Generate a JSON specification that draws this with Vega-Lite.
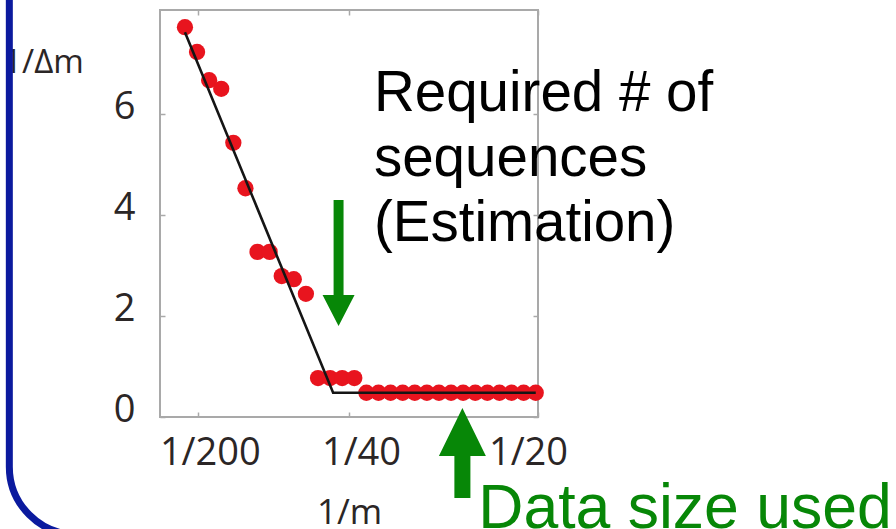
{
  "$schema": "https://vega.github.io/schema/vega-lite/v6.json",
  "autosize": {"type": "none"},
  "padding": {"left": 160, "top": 10, "right": 358, "bottom": 112},
  "width": 378,
  "height": 407,
  "background": "white",
  "config": {
    "view": {"stroke": "#a9a9a9", "strokeWidth": 2},
    "axis": {
      "domain": false,
      "grid": false,
      "labelFlush": false,
      "tickColor": "#a9a9a9",
      "tickWidth": 1.5,
      "tickSize": -5,
      "labelFont": "Open Sans",
      "labelColor": "#2b2626",
      "labelFontSize": 38,
      "titleFont": "Open Sans",
      "titleColor": "#2b2626",
      "titleFontWeight": "normal"
    }
  },
  "datasets": {
    "measured": [
      {"inv_m": 0.0033, "inv_dm": 7.72},
      {"inv_m": 0.0049, "inv_dm": 7.23},
      {"inv_m": 0.0065, "inv_dm": 6.67},
      {"inv_m": 0.0081, "inv_dm": 6.50},
      {"inv_m": 0.0097, "inv_dm": 5.43},
      {"inv_m": 0.0113, "inv_dm": 4.53},
      {"inv_m": 0.0129, "inv_dm": 3.27},
      {"inv_m": 0.0145, "inv_dm": 3.27},
      {"inv_m": 0.0161, "inv_dm": 2.79},
      {"inv_m": 0.0177, "inv_dm": 2.73},
      {"inv_m": 0.0193, "inv_dm": 2.44},
      {"inv_m": 0.0209, "inv_dm": 0.77},
      {"inv_m": 0.0225, "inv_dm": 0.77},
      {"inv_m": 0.0241, "inv_dm": 0.77},
      {"inv_m": 0.0257, "inv_dm": 0.77},
      {"inv_m": 0.0273, "inv_dm": 0.48},
      {"inv_m": 0.0289, "inv_dm": 0.48},
      {"inv_m": 0.0305, "inv_dm": 0.48},
      {"inv_m": 0.0321, "inv_dm": 0.48},
      {"inv_m": 0.0337, "inv_dm": 0.48},
      {"inv_m": 0.0353, "inv_dm": 0.48},
      {"inv_m": 0.0369, "inv_dm": 0.48},
      {"inv_m": 0.0385, "inv_dm": 0.48},
      {"inv_m": 0.0401, "inv_dm": 0.48},
      {"inv_m": 0.0417, "inv_dm": 0.48},
      {"inv_m": 0.0433, "inv_dm": 0.48},
      {"inv_m": 0.0449, "inv_dm": 0.48},
      {"inv_m": 0.0465, "inv_dm": 0.48},
      {"inv_m": 0.0481, "inv_dm": 0.48},
      {"inv_m": 0.0497, "inv_dm": 0.48}
    ],
    "fit": [
      {"inv_m": 0.0033, "inv_dm": 7.62},
      {"inv_m": 0.0229, "inv_dm": 0.48},
      {"inv_m": 0.0497, "inv_dm": 0.48}
    ]
  },
  "layer": [
    {
      "data": {"name": "measured"},
      "mark": {"type": "circle", "color": "#e8141e", "size": 265, "opacity": 1},
      "encoding": {
        "x": {
          "field": "inv_m", "type": "quantitative",
          "scale": {"domain": [0, 0.05], "nice": false, "zero": false},
          "axis": {
            "orient": "bottom",
            "values": [0.005, 0.025, 0.05],
            "labelExpr": "datum.value < 0.01 ? '1/200' : datum.value < 0.04 ? '1/40' : '1/20'",
            "labelPadding": 22,
            "labelOffset": {"condition": {"test": "datum.value > 0.04", "value": -10}, "value": 12},
            "title": "1/m",
            "titleFontSize": 35,
            "titleX": 189,
            "titleY": 78,
            "titleAlign": "center",
            "titleBaseline": "top"
          }
        },
        "y": {
          "field": "inv_dm", "type": "quantitative",
          "scale": {"domain": [0, 8.06], "nice": false},
          "axis": {
            "orient": "left",
            "values": [0, 2, 4, 6],
            "labelPadding": 30,
            "labelOffset": -7,
            "title": "1/Δm",
            "titleFontSize": 33,
            "titleAngle": 0,
            "titleX": -117,
            "titleY": 52,
            "titleAlign": "center",
            "titleBaseline": "middle"
          }
        }
      }
    },
    {
      "data": {"name": "fit"},
      "mark": {"type": "line", "color": "#151515", "strokeWidth": 2.6},
      "encoding": {
        "x": {
          "field": "inv_m", "type": "quantitative",
          "axis": {"orient": "top", "values": [0.005, 0.025, 0.05], "labels": false, "title": null}
        },
        "y": {
          "field": "inv_dm", "type": "quantitative",
          "axis": {"orient": "right", "values": [0, 2, 4, 6], "labels": false, "title": null}
        }
      }
    },
    {
      "data": {"values": [{"note": ["Required # of", "sequences", "(Estimation)"]}]},
      "mark": {"type": "text", "font": "Liberation Sans", "fontSize": 56.5, "color": "black", "align": "left", "baseline": "alphabetic", "lineHeight": 65},
      "encoding": {
        "x": {"datum": 0.0283, "type": "quantitative", "axis": null},
        "y": {"datum": 6.06, "type": "quantitative", "axis": null},
        "text": {"field": "note"}
      }
    },
    {
      "data": {"values": [{"note": "Data size used"}]},
      "mark": {"type": "text", "font": "Liberation Sans", "fontSize": 62.5, "color": "#078707", "align": "left", "baseline": "alphabetic"},
      "encoding": {
        "x": {"datum": 0.0421, "type": "quantitative", "axis": null},
        "y": {"datum": -2.2, "type": "quantitative", "axis": null},
        "text": {"field": "note"}
      }
    },
    {
      "data": {"values": [{"arrow": "estimate", "inv_m": 0.02362, "inv_dm": 3.05}]},
      "mark": {"type": "point", "filled": true, "color": "#078707", "opacity": 1, "size": 15876,
        "shape": "M-0.079,-1L0.079,-1L0.079,0.508L0.254,0.508L0,1L-0.254,0.508L-0.079,0.508Z"},
      "encoding": {
        "x": {"field": "inv_m", "type": "quantitative", "axis": null},
        "y": {"field": "inv_dm", "type": "quantitative", "axis": null}
      }
    },
    {
      "data": {"values": [{"arrow": "used", "inv_m": 0.04, "inv_dm": -0.713}]},
      "mark": {"type": "point", "filled": true, "color": "#078707", "opacity": 1, "size": 8100,
        "shape": "M0,-1L0.522,0.067L0.178,0.067L0.178,1L-0.178,1L-0.178,0.067L-0.522,0.067Z"},
      "encoding": {
        "x": {"field": "inv_m", "type": "quantitative", "axis": null},
        "y": {"field": "inv_dm", "type": "quantitative", "axis": null}
      }
    },
    {
      "data": {"values": [{"left": -0.01993, "right": 0.2, "bottom": -2.33, "top": 30}]},
      "mark": {"type": "rect", "fill": null, "fillOpacity": 0, "stroke": "#0b1a9e", "strokeWidth": 7, "cornerRadius": 68},
      "encoding": {
        "x": {"field": "left", "type": "quantitative", "axis": null},
        "x2": {"field": "right"},
        "y": {"field": "bottom", "type": "quantitative", "axis": null},
        "y2": {"field": "top"}
      }
    }
  ],
  "resolve": {"axis": {"x": "independent", "y": "independent"}}
}
